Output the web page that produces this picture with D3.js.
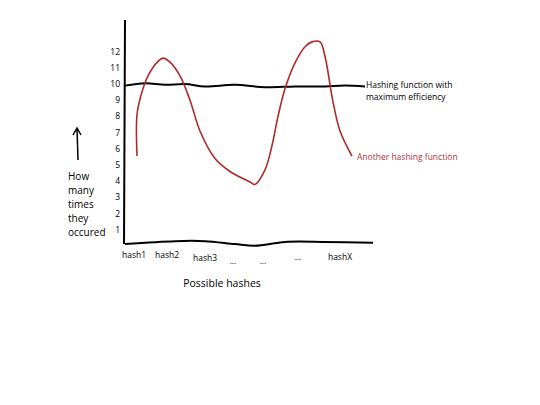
<!DOCTYPE html><html><head><script src="https://cdn.jsdelivr.net/npm/d3@7"></script>
<style>body{margin:0;background:#fff}text{font-family:"Open Sans",sans-serif}</style></head><body>
<svg id="c" width="540" height="405"></svg>
<script>
const yTicks=[1,2,3,4,5,6,7,8,9,10,11,12];
const redX=[12,12,16,23,33,38,45,55,65,75,90,105,125,130,140,147,153,160,170,180,187,195,200,208,215,227];
const redY=[5.56,8.1,9.3,10.5,11.4,11.6,11.35,10.5,9.0,7.1,5.4,4.6,3.95,3.8,4.7,6.2,8.0,9.7,11.3,12.3,12.6,12.6,11.7,8.9,7.1,5.55];
const blackX=[0,20,40,60,80,110,140,170,200,220,240];
const blackY=[9.9,10.05,9.95,10.0,9.85,9.95,9.8,9.85,9.85,9.9,9.85];
const baseX=[0,50,80,110,130,160,200,248];
const baseY=[0.12,0.3,0.3,0.12,0.02,0.25,0.25,0.2];
const hashLabels=["hash1","hash2","hash3","...","...","...","hashX"];
const hashPos=[9,42,80,108,138,173,215];
const hashDy=[0,0,3,6,6,2,2];
const svg=d3.select("#c");
const x=d3.scaleLinear().domain([0,245]).range([125,370]);
const y=d3.scaleLinear().domain([0,12]).range([246,51.6]);
const line=d3.line().x(d=>x(d[0])).y(d=>y(d[1])).curve(d3.curveCatmullRom);
svg.append("line").attr("x1",125).attr("x2",124).attr("y1",20).attr("y2",244).attr("stroke","#000").attr("stroke-width",2);
svg.append("path").attr("d",line(d3.zip(baseX,baseY))).attr("fill","none").attr("stroke","#000").attr("stroke-width",2);
svg.append("path").attr("d",line(d3.zip(blackX,blackY))).attr("fill","none").attr("stroke","#000").attr("stroke-width",2);
svg.append("path").attr("d",line(d3.zip(redX,redY))).attr("fill","none").attr("stroke","#b02a2a").attr("stroke-width",1.6);
svg.selectAll(".yt").data(yTicks).join("text").attr("x",120).attr("y",d=>y(d)+3).attr("text-anchor","end").attr("font-size",8.5).text(d=>d);
svg.selectAll(".xt").data(hashLabels).join("text").attr("x",(d,i)=>x(hashPos[i])).attr("y",(d,i)=>258+hashDy[i]).attr("text-anchor","middle").attr("font-size",8.5).text(d=>d);
svg.append("text").attr("x",222).attr("y",287).attr("text-anchor","middle").attr("font-size",10.5).text("Possible hashes");
svg.append("text").attr("x",366).attr("y",88).attr("font-size",8.5).text("Hashing function with");
svg.append("text").attr("x",366).attr("y",100).attr("font-size",8.5).text("maximum efficiency");
svg.append("text").attr("x",357).attr("y",160).attr("font-size",8.5).attr("fill","#b03040").text("Another hashing function");
["How","many","times","they","occured"].forEach((t,i)=>svg.append("text").attr("x",68).attr("y",180+i*14).attr("font-size",10).text(t));
svg.append("path").attr("d","M78,160 L77,128 M73,135 L77,128 L81,135").attr("fill","none").attr("stroke","#000").attr("stroke-width",1.5);
</script></body></html>
